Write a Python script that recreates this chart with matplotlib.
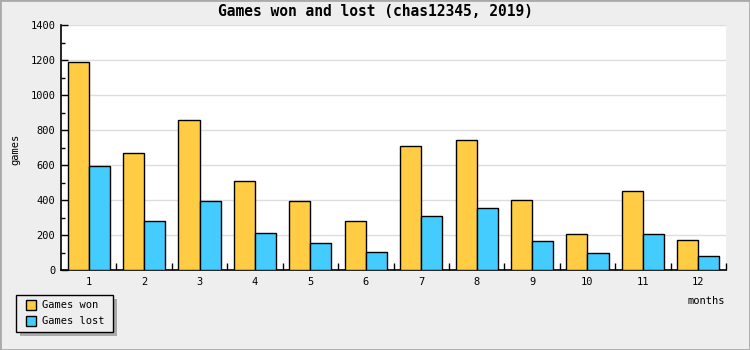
import matplotlib
matplotlib.use("Agg")
import matplotlib.pyplot as plt
import numpy as np
from matplotlib.patches import Rectangle

months = ["1", "2", "3", "4", "5", "6", "7", "8", "9", "10", "11", "12"]
games_won = [1190, 667, 858, 509, 395, 280, 709, 744, 400, 206, 454, 172]
games_lost = [595, 280, 395, 209, 154, 103, 309, 355, 166, 97, 206, 80]

plt.rcParams['font.family'] = ['DejaVu Sans Mono']

fig = plt.figure(figsize=(7.5, 3.5), dpi=100)
fig.patch.set_facecolor('#EEEEEE')
fig.patches.append(Rectangle((0, 0), 1, 1, transform=fig.transFigure, fill=False,
                             edgecolor='#AAAAAA', linewidth=2))

ax = fig.add_axes([61/750, 1-270/350, 665/750, 245/350])
ax.set_facecolor('white')

x = np.arange(len(months))
w = 0.38
ax.bar(x - w/2, games_won, width=w, color='#FFCC44', edgecolor='black', linewidth=1, label='Games won', zorder=3)
ax.bar(x + w/2, games_lost, width=w, color='#44CCFF', edgecolor='black', linewidth=1, label='Games lost', zorder=3)

ax.set_xlim(-0.5, len(months) - 0.5)
ax.set_ylim(0, 1400)
ax.set_yticks(np.arange(0, 1401, 200))
ax.set_yticks(np.arange(100, 1400, 200), minor=True)
ax.yaxis.grid(True, color='#DDDDDD', linewidth=1, zorder=0)
ax.set_axisbelow(True)

# x ticks: marks at group boundaries, labels at centers
ax.set_xticks(np.arange(0.5, len(months), 1))
ax.set_xticklabels([])
ax.set_xticks(x, minor=True)
ax.set_xticklabels(months, minor=True)
ax.tick_params(axis='x', which='major', direction='in', length=5, width=1, color='black')
ax.tick_params(axis='x', which='minor', length=0, pad=5, labelsize=7.5)
ax.tick_params(axis='y', which='major', direction='in', length=5, width=1, labelsize=7.5, pad=4)
ax.tick_params(axis='y', which='minor', direction='in', length=3, width=1)

for s in ['top', 'right']:
    ax.spines[s].set_visible(False)
for s in ['left', 'bottom']:
    ax.spines[s].set_color('black')
    ax.spines[s].set_linewidth(1.2)

fig.text(0.5, 1-12/350, 'Games won and lost (chas12345, 2019)', ha='center', va='center',
         fontsize=10.5, fontweight='bold')
fig.text(15/750, 1-149/350, 'games', rotation=90, ha='center', va='center', fontsize=7.5)
fig.text(725/750, 1-301/350, 'months', ha='right', va='center', fontsize=7.5)

# legend with shadow
lx0, ly0, lw, lh = 15.7, 295.3, 97, 37
fig.patches.append(Rectangle(((lx0+4)/750, 1-(ly0+lh+4)/350), lw/750, lh/350,
                             transform=fig.transFigure, facecolor='#AAAAAA', edgecolor='none'))
fig.patches.append(Rectangle((lx0/750, 1-(ly0+lh)/350), lw/750, lh/350,
                             transform=fig.transFigure, facecolor='#EEEEEE', edgecolor='black', linewidth=1))
entries = [('Games won', '#FFCC44'), ('Games lost', '#44CCFF')]
for i, (lab, col) in enumerate(entries):
    cy = 305 + i*16
    fig.patches.append(Rectangle((25.5/750, 1-(cy+5)/350), 10/750, 10/350,
                                 transform=fig.transFigure, facecolor=col, edgecolor='black', linewidth=1))
    fig.text(42/750, 1-cy/350, lab, ha='left', va='center', fontsize=7.5)

fig.savefig('out.png', dpi=100, facecolor=fig.get_facecolor())
